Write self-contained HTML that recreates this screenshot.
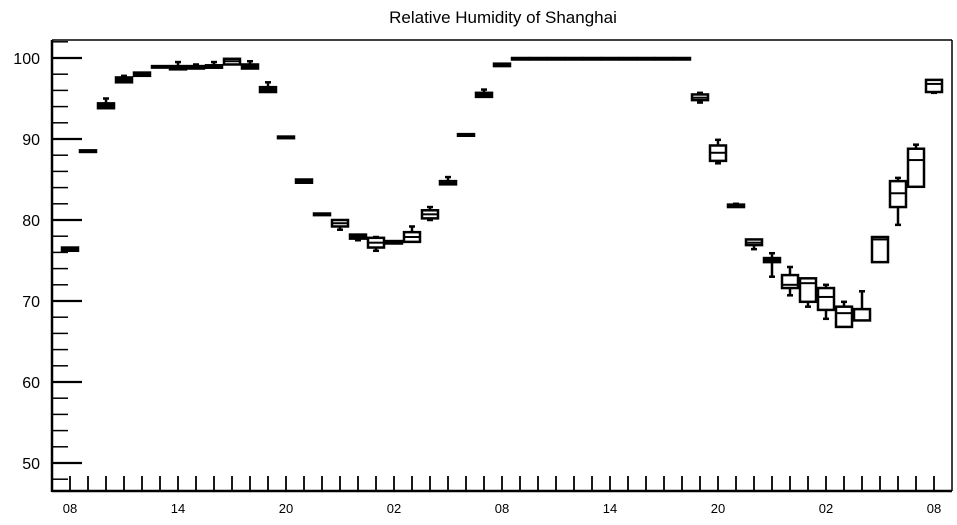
<!DOCTYPE html>
<html><head><meta charset="utf-8"><style>
html,body{margin:0;padding:0;background:#fff;}
svg text{font-family:"Liberation Sans",sans-serif;fill:#000;}
</style></head><body>
<svg id="chart" width="957" height="520" viewBox="0 0 957 520" xmlns="http://www.w3.org/2000/svg">
<text x="503" y="23" font-size="17" text-anchor="middle">Relative Humidity of Shanghai</text>
<g id="axes"></g>
<g id="boxes"></g>
</svg>
<script>
const hours = Array.from({length:49},(_,i)=>i);
const minVals = [76.2,88.4,93.8,97.0,97.8,99.0,98.6,98.7,98.8,99.2,98.7,95.8,90.1,84.6,80.6,78.8,77.5,76.2,77.1,77.3,80.0,84.4,90.4,95.2,99.0,100,100,100,100,100,100,100,100,100,100,94.5,87.0,81.6,76.4,73.0,70.7,69.3,67.8,66.8,67.6,74.8,79.4,84.1,95.7];
const q1Vals  = [76.2,88.4,93.8,97.0,97.8,99.0,98.6,98.7,98.8,99.2,98.7,95.8,90.1,84.6,80.6,79.2,77.7,76.6,77.1,77.3,80.2,84.4,90.4,95.2,99.0,100,100,100,100,100,100,100,100,100,100,94.8,87.3,81.6,76.9,74.8,71.6,69.9,68.9,66.8,67.6,74.8,81.6,84.1,95.8];
const medVals = [76.4,88.5,94.2,97.3,98.0,99.0,98.8,98.9,99.0,99.6,99.0,96.1,90.2,84.8,80.7,79.6,78.0,77.2,77.3,77.9,80.7,84.6,90.5,95.4,99.1,100,100,100,100,100,100,100,100,100,100,95.1,88.3,81.7,77.2,75.0,72.0,72.2,70.5,68.5,69.0,77.6,83.3,87.4,96.8];
const q3Vals  = [76.6,88.6,94.4,97.6,98.2,99.0,99.0,99.0,99.1,99.9,99.2,96.4,90.3,85.0,80.8,80.0,78.2,77.8,77.4,78.5,81.2,84.8,90.6,95.7,99.3,100,100,100,100,100,100,100,100,100,100,95.5,89.2,81.9,77.6,75.3,73.2,72.8,71.6,69.3,69.0,77.9,84.8,88.8,97.3];
const maxVals = [76.6,88.6,95.0,97.8,98.2,99.0,99.5,99.2,99.5,99.9,99.6,97.0,90.3,85.0,80.8,80.0,78.2,77.9,77.4,79.2,81.6,85.3,90.6,96.1,99.3,100,100,100,100,100,100,100,100,100,100,95.7,89.9,82.0,77.6,75.9,74.2,72.8,72.0,69.9,71.2,77.9,85.2,89.3,97.3];
const xTickLabels = ["08","14","20","02","08","14","20","02","08"];
const yTickLabels = [50,60,70,80,90,100];

const X0=52,X1=952,Y0=40,Y1=491;
const xScale = h => 70 + h*18;
const yScale = v => 58 + (100 - v)*8.1;
const NS="http://www.w3.org/2000/svg";
function mk(tag, attrs, parent){const e=document.createElementNS(NS,tag);for(const k in attrs)e.setAttribute(k,attrs[k]);parent.appendChild(e);return e;}
const axes=document.getElementById('axes'), boxes=document.getElementById('boxes');

// frame
let f=mk('line',{x1:X0,y1:Y0,x2:X1,y2:Y0,stroke:'#000','stroke-width':1.5},axes);


f=mk('line',{x1:X1,y1:Y0,x2:X1,y2:Y1,stroke:'#000','stroke-width':1.5},axes);


f=mk('line',{x1:X0,y1:Y0,x2:X0,y2:Y1+1,stroke:'#000','stroke-width':2.5},axes);


f=mk('line',{x1:X0,y1:Y1,x2:X1,y2:Y1,stroke:'#000','stroke-width':2.5},axes);



// y ticks
for(let v=48; v<=102; v+=2){
  const y=yScale(v); if(y<Y0||y>Y1) continue;
  const major = v%10===0;
  const t=mk('line',{x1:X0,y1:y,x2:X0+(major?30:16),y2:y,stroke:'#000','stroke-width':major?2.2:1.5},axes);
  
  
}
yTickLabels.forEach(v=>{
  const t=mk('text',{x:40,y:yScale(v)+6,'font-size':16,'text-anchor':'end'},axes);
  t.textContent=v;
  
  
});
// x ticks
hours.forEach(h=>{
  const x=xScale(h);
  const t=mk('line',{x1:x,y1:Y1,x2:x,y2:Y1-15,stroke:'#000','stroke-width':1.8},axes);
  
  
});
xTickLabels.forEach((lab,i)=>{
  const t=mk('text',{x:xScale(i*6),y:513,'font-size':13,'text-anchor':'middle'},axes);
  t.textContent=lab;
  
  
});

// boxes
const BW=16;
hours.forEach(h=>{
  const g=mk('g',{},boxes);
  
  
  const x=xScale(h);
  const yq1=yScale(q1Vals[h]), yq3=yScale(q3Vals[h]), ym=yScale(medVals[h]);
  const ymin=yScale(minVals[h]), ymax=yScale(maxVals[h]);
  const sw=2.5;
  if(ymax<yq3-0.5){
    mk('line',{x1:x,y1:yq3,x2:x,y2:ymax,stroke:'#000','stroke-width':sw},g);
    mk('line',{x1:x-3,y1:ymax,x2:x+3,y2:ymax,stroke:'#000','stroke-width':sw},g);
  }
  if(ymin>yq1+0.5){
    mk('line',{x1:x,y1:yq1,x2:x,y2:ymin,stroke:'#000','stroke-width':sw},g);
    mk('line',{x1:x-3,y1:ymin,x2:x+3,y2:ymin,stroke:'#000','stroke-width':sw},g);
  }
  const hgt=Math.max(yq1-yq3,1.5);
  mk('rect',{x:x-BW/2,y:yq3,width:BW,height:hgt,fill:hgt<5?'#000':'#fff',stroke:'#000','stroke-width':sw},g);
  mk('line',{x1:x-BW/2,y1:ym,x2:x+BW/2,y2:ym,stroke:'#000','stroke-width':2},g);
});
</script>
</body></html>
